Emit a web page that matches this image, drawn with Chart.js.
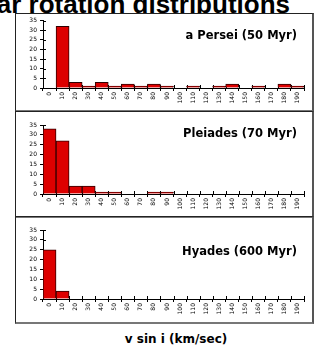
<!DOCTYPE html>
<html>
<head>
<meta charset="utf-8">
<script src="https://cdn.jsdelivr.net/npm/chart.js@4/dist/chart.umd.min.js"></script>
<style>
  body { margin: 0; width: 320px; height: 349px; overflow: hidden; background: #fff; position: relative; font-family: "DejaVu Sans", sans-serif; }
  .head { position: absolute; right: 30px; top: -11px; font: bold 26px "Liberation Sans", Arial, sans-serif; white-space: nowrap; color: #000; }
  .panel { position: absolute; left: 15px; width: 299px; border: 1px solid #222; border-right: 2px solid #555; border-bottom: 2px solid #777; box-sizing: border-box; }
  .box { position: absolute; left: 16px; width: 299px; }
  .ttl { position: absolute; right: 23px; font: bold 11.5px "DejaVu Sans", sans-serif; white-space: nowrap; line-height: 12px; }
  .xlab { position: absolute; left: 0; width: 352px; text-align: center; top: 332px; font: bold 12px "DejaVu Sans", sans-serif; }
</style>
</head>
<body>
<div class="head">Stellar rotation distributions</div>

<div class="panel" style="top:13px;height:99px"></div>
<div class="panel" style="top:111px;height:107px"></div>
<div class="panel" style="top:216px;height:108px"></div>

<div class="box" style="top:14px;height:96px"><canvas id="c1"></canvas></div>
<div class="box" style="top:113px;height:103px"><canvas id="c2"></canvas></div>
<div class="box" style="top:218px;height:104px"><canvas id="c3"></canvas></div>

<div class="ttl" style="top:29px">a Persei (50 Myr)</div>
<div class="ttl" style="top:127px">Pleiades (70 Myr)</div>
<div class="ttl" style="top:245px">Hyades (600 Myr)</div>
<div class="xlab">v sin i (km/sec)</div>

<script>
// v sin i bins (km/sec)
var bins = ["0","10","20","30","40","50","60","70","80","90","100","110","120","130","140","150","160","170","180","190"];
var yTicks = [0, 5, 10, 15, 20, 25, 30, 35];

// number of stars per bin
var persei   = [0, 32, 3, 1, 3, 1, 2, 1, 2, 1, 0, 1, 0, 1, 2, 0, 1, 0, 2, 1];
var pleiades = [33, 27, 4, 4, 1, 1, 0, 0, 1, 1, 0, 0, 0, 0, 0, 0, 0, 0, 0, 0];
var hyades   = [25, 4, 0, 0, 0, 0, 0, 0, 0, 0, 0, 0, 0, 0, 0, 0, 0, 0, 0, 0];

// little tick stubs on the inner side of both axes
var innerTicks = {
    id: 'innerTicks',
    beforeDatasetsDraw: function(chart) {
        var ctx = chart.ctx, x = chart.scales.x, y = chart.scales.y;
        ctx.save();
        ctx.strokeStyle = '#000';
        ctx.lineWidth = 1;
        ctx.beginPath();
        yTicks.forEach(function(v) {
            var py = Math.round(y.getPixelForValue(v)) + 0.5;
            ctx.moveTo(y.right, py);
            ctx.lineTo(y.right + 3, py);
        });
        var w = x.getPixelForValue(1) - x.getPixelForValue(0);
        for (var i = 0; i <= bins.length; i++) {
            var px = Math.round(x.getPixelForValue(0) - w / 2 + i * w) + 0.5;
            ctx.moveTo(px, x.top);
            ctx.lineTo(px, x.top - 3);
        }
        ctx.stroke();
        ctx.restore();
    }
};

function makeChart(id, values, padTop, xHeight) {
    return new Chart(document.getElementById(id), {
        type: 'bar',
        data: {
            labels: bins,
            datasets: [{
                data: values,
                backgroundColor: '#dd0000',
                borderColor: '#300000',
                borderWidth: 1,
                barPercentage: 1,
                categoryPercentage: 1
            }]
        },
        options: {
            responsive: true,
            maintainAspectRatio: false,
            animation: false,
            layout: { padding: { top: padTop, right: 11, left: 0, bottom: 0 } },
            plugins: { legend: { display: false }, tooltip: { enabled: false } },
            scales: {
                x: {
                    grid: { drawOnChartArea: false, tickLength: 3, color: '#000', offset: true },
                    border: { color: '#000', width: 1 },
                    ticks: { color: '#000', font: { family: 'DejaVu Sans', size: 6 }, minRotation: 90, maxRotation: 90, padding: 1, autoSkip: false },
                    afterFit: function(s) { s.height = xHeight; }
                },
                y: {
                    min: 0, max: 35,
                    grid: { drawOnChartArea: false, tickLength: 3, color: '#000' },
                    border: { color: '#000', width: 1 },
                    ticks: { stepSize: 5, autoSkip: false, color: '#000', font: { family: 'DejaVu Sans', size: 6 }, padding: 3 },
                    afterFit: function(s) { s.width = 27; }
                }
            }
        },
        plugins: [innerTicks]
    });
}

makeChart('c1', persei, 6, 22);
makeChart('c2', pleiades, 12, 22);
makeChart('c3', hyades, 12, 23);
</script>
</body>
</html>
